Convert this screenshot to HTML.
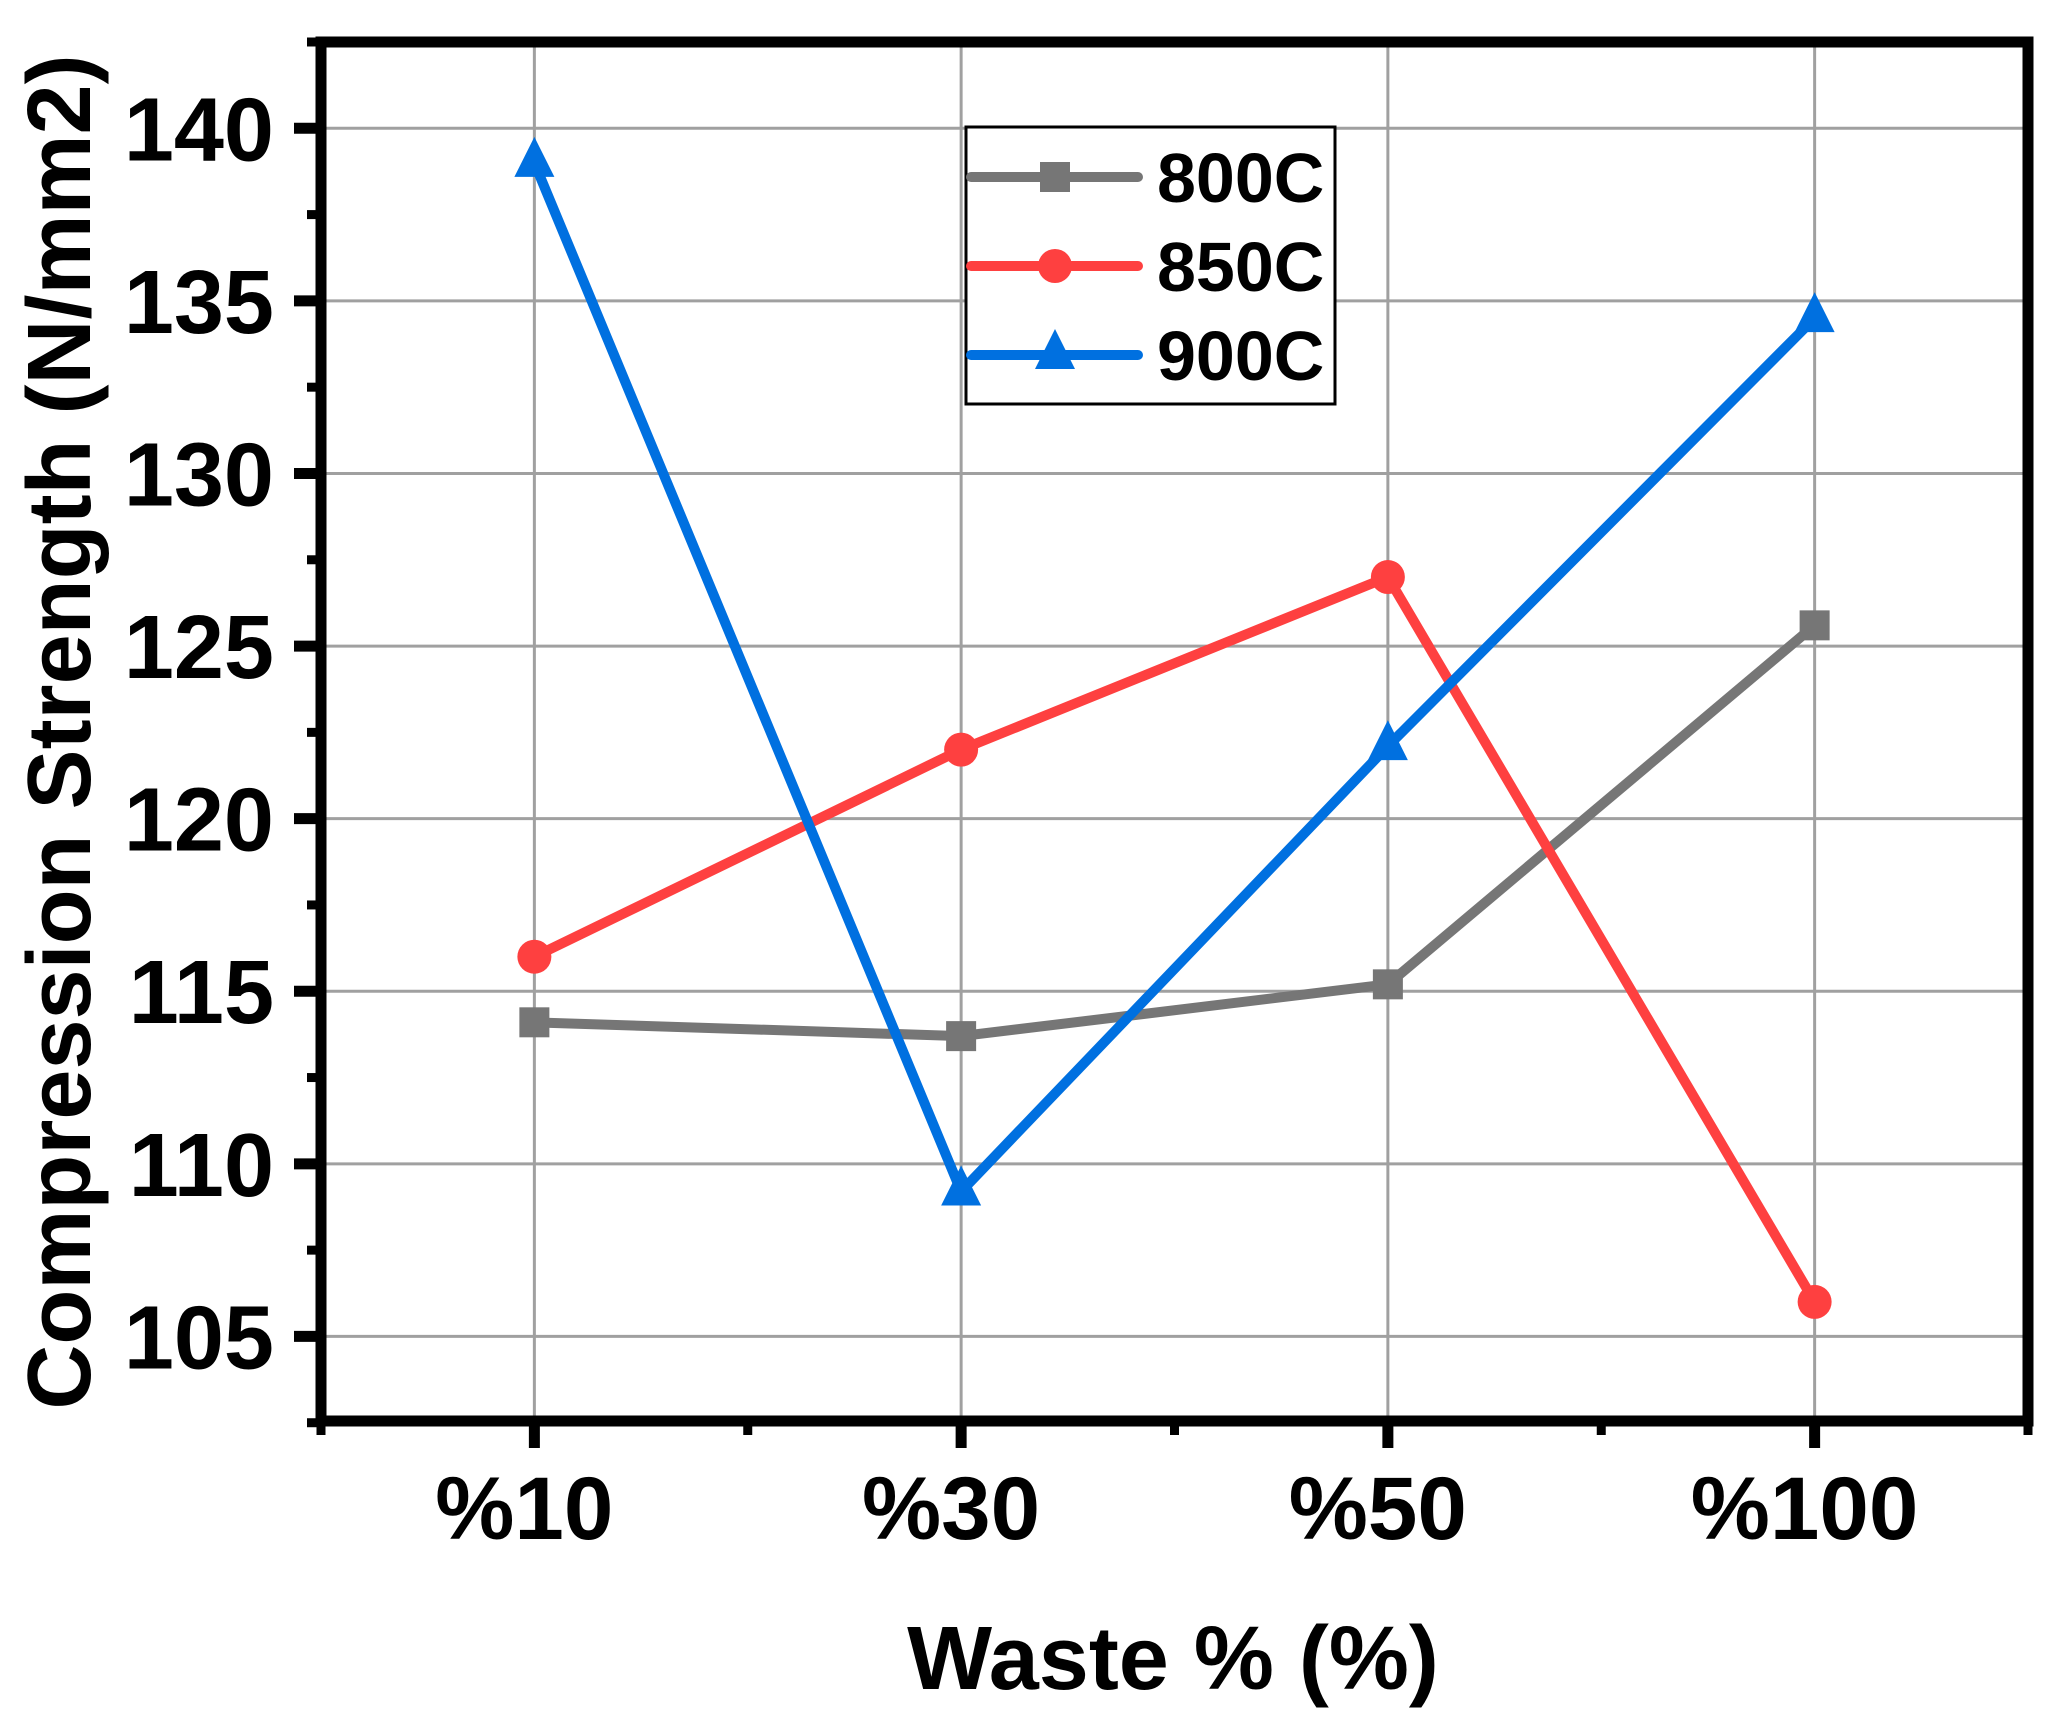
<!DOCTYPE html>
<html><head><meta charset="utf-8"><style>
html,body{margin:0;padding:0;background:#fff}
svg{display:block}
text{font-family:"Liberation Sans",Arial,sans-serif;font-weight:bold;fill:#000}
</style></head><body>
<svg id="chart" width="2057" height="1730" viewBox="0 0 2057 1730" xmlns="http://www.w3.org/2000/svg">
<g id="grid"></g>
<g id="series"></g>
<g id="axes"></g>
<text x="90" y="732" font-size="90" text-anchor="middle" transform="rotate(-90 90 732)">Compression Strength (N/mm2)</text>
<text x="1173" y="1689" font-size="90" text-anchor="middle">Waste % (%)</text>
<g id="legend"></g>
</svg>
<script>
const categories = ["%10", "%30", "%50", "%100"];
const seriesNames = ["800C", "850C", "900C"];
const s800 = [114.1, 113.7, 115.2, 125.6];
const s850 = [116.0, 122.0, 127.0, 106.0];
const s900 = [139.0, 109.2, 122.1, 134.5];
const yTicks = [105, 110, 115, 120, 125, 130, 135, 140];

const NS = "http://www.w3.org/2000/svg";
const L = 321, R = 2028, T = 42, B = 1421;
const yMin = 102.55, yMax = 142.5;
function xs(i){ return L + (R - L) * (i + 0.5) / categories.length; }
function ys(v){ return B - (v - yMin) / (yMax - yMin) * (B - T); }
function mk(tag, attrs, parent){ const e = document.createElementNS(NS, tag); for (const k in attrs) e.setAttribute(k, attrs[k]); parent.appendChild(e); return e; }

const grid = document.getElementById('grid');
yTicks.forEach(v => {
  const ln = mk('line', {x1:L, x2:R, y1:ys(v), y2:ys(v), stroke:'#a0a0a0', 'stroke-width':3}, grid);
  
  
});
categories.forEach((c, i) => {
  const ln = mk('line', {x1:xs(i), x2:xs(i), y1:T, y2:B, stroke:'#a0a0a0', 'stroke-width':3}, grid);
  
  
});

const axes = document.getElementById('axes');
const frame = mk('rect', {x:L, y:T, width:R-L, height:B-T, fill:'none', stroke:'#000', 'stroke-width':11}, axes);


yTicks.forEach(v => {
  const t = mk('line', {x1:L-27, x2:L, y1:ys(v), y2:ys(v), stroke:'#000', 'stroke-width':11}, axes);
  
  
  const m = mk('line', {x1:L-14, x2:L, y1:ys(v+2.5), y2:ys(v+2.5), stroke:'#000', 'stroke-width':9}, axes);
  
  
  const lb = mk('text', {x:L-47, y:ys(v)+32, 'font-size':90, 'text-anchor':'end'}, axes);
  lb.textContent = v;
  
  
});
const m0 = mk('line', {x1:L-14, x2:L, y1:ys(102.5), y2:ys(102.5), stroke:'#000', 'stroke-width':9}, axes);


categories.forEach((c, i) => {
  const t = mk('line', {x1:xs(i), x2:xs(i), y1:B, y2:B+27, stroke:'#000', 'stroke-width':11}, axes);
  
  
  const lb = mk('text', {x:xs(i)-10, y:1539, 'font-size':89, 'text-anchor':'middle'}, axes);
  lb.textContent = c;
  
  
});
for (let k = 0; k <= categories.length; k++) {
  const x = L + (R - L) * k / categories.length;
  const m = mk('line', {x1:x, x2:x, y1:B, y2:B+14, stroke:'#000', 'stroke-width':9}, axes);
  
  
}

const colors = ['#767676', '#fe4040', '#0070e0'];
const shapes = ['square', 'circle', 'triangle'];
function marker(shape, x, y, color, parent){
  let e;
  if (shape === 'square') e = mk('rect', {x:x-15, y:y-15, width:30, height:30, fill:color}, parent);
  else if (shape === 'circle') e = mk('circle', {cx:x, cy:y, r:17, fill:color}, parent);
  else e = mk('polygon', {points:`${x},${y-26} ${x+20},${y+14} ${x-20},${y+14}`, fill:color}, parent);
  return e;
}
const seriesG = document.getElementById('series');
[s800, s850, s900].forEach((data, si) => {
  const pts = data.map((v, i) => xs(i) + ',' + ys(v)).join(' ');
  const pl = mk('polyline', {points:pts, fill:'none', stroke:colors[si], 'stroke-width':10, 'stroke-linejoin':'miter'}, seriesG);
  
  
  data.forEach((v, i) => {
    const m = marker(shapes[si], xs(i), ys(v), colors[si], seriesG);
    
    
  });
});

const lg = document.getElementById('legend');
const box = mk('rect', {x:966, y:127, width:369, height:277, fill:'#fff', stroke:'#000', 'stroke-width':3}, lg);


const rowY = [177, 266, 355];
seriesNames.forEach((n, si) => {
  const ln = mk('line', {x1:971, x2:1138, y1:rowY[si], y2:rowY[si], stroke:colors[si], 'stroke-width':10, 'stroke-linecap':'round'}, lg);
  
  
  const m = marker(shapes[si], 1055, rowY[si], colors[si], lg);
  
  
  const t = mk('text', {x:1157, y:rowY[si]+25, 'font-size':70}, lg);
  t.textContent = n;
  
  
});
</script>
</body></html>
